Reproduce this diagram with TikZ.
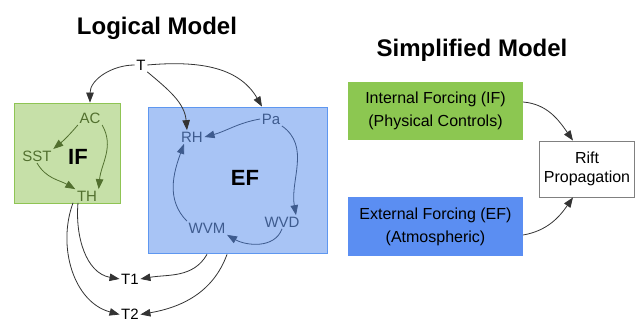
\documentclass[tikz,border=0pt]{standalone}
\usepackage{fontspec}
\setmainfont{Liberation Sans}
\usepgflibrary{arrows.meta}
\usetikzlibrary{positioning}

\definecolor{ifLight}{HTML}{C6E0A8}
\definecolor{ifEdge}{HTML}{8FC454}
\definecolor{ifDark}{HTML}{52702F}
\definecolor{efLight}{HTML}{A8C4F5}
\definecolor{efEdge}{HTML}{5E97F0}
\definecolor{efDark}{HTML}{3E5B8E}
\definecolor{intFill}{HTML}{8CC751}
\definecolor{extFill}{HTML}{5B8EF2}
\definecolor{arrowGray}{HTML}{333333}

\begin{document}
\begin{tikzpicture}[x=1pt, y=1pt,
  lbl/.style={font=\fontsize{15}{18}\selectfont, inner sep=1.5pt},
  big/.style={font=\fontsize{22}{26}\selectfont\bfseries, inner sep=0pt},
  ttl/.style={font=\fontsize{24}{28}\selectfont\bfseries, anchor=base},
  lnk/.style={draw=arrowGray, line width=0.8pt, -{Triangle[length=10pt,width=7.5pt]}},
  iflnk/.style={lnk, draw=ifDark, -{Triangle[length=10pt,width=7.5pt,fill=ifDark]}},
  eflnk/.style={lnk, draw=efDark, -{Triangle[length=10pt,width=7.5pt,fill=efDark]}},
  frame/.style={rectangle, inner sep=0pt, line width=1.8pt},
  force/.style={rectangle, inner sep=0pt, minimum width=175pt,
    align=center, font=\fontsize{16}{23}\selectfont}]
  \useasboundingbox (0, 0) rectangle (635, -323);

  % titles
  \node[ttl] (logical) at (157, -35) {Logical Model};
  \node[ttl] (simple) at (472, -57) {Simplified Model};

  % logical model boxes
  \node[frame, fill=ifLight, draw=ifEdge, minimum width=106pt,
    minimum height=100pt] (IFbox) at (67.5, -153.5) {};
  \node[frame, fill=efLight, draw=efEdge, minimum width=179pt,
    minimum height=146pt] (EFbox) at (238, -180.5) {};

  \node[lbl] (T) at (141, -65) {T};
  \node[lbl, text=ifDark] (AC) at (90, -118) {AC};
  \node[lbl, text=ifDark] (SST) at (37, -156) {SST};
  \node[big] (IF) at (78, -157) {IF};
  \node[lbl, text=ifDark] (TH) at (87, -196) {TH};
  \node[lbl, text=efDark] (RH) at (192, -137) {RH};
  \node[lbl, text=efDark] (Pa) at (271, -119) {Pa};
  \node[big] (EF) at (245, -178) {EF};
  \node[lbl, text=efDark] (WVD) at (282, -222) {WVD};
  \node[lbl, text=efDark] (WVM) at (207, -228) {WVM};
  \node[lbl] (T1) at (130, -279) {T1};
  \node[lbl] (T2) at (130, -314.5) {T2};

  % T drives both groups
  \draw[lnk] (T.west) to[out=180, in=90] (AC |- IFbox.north);
  \draw[lnk] (T.south east) to[out=-40, in=95] ([xshift=-5pt]RH.north);
  \draw[lnk] (T.east) to[out=5, in=120] ([xshift=-9pt]Pa |- EFbox.north);

  % inside IF
  \draw[iflnk] (AC.south west) to[bend left=5] (SST.north east);
  \draw[iflnk] (AC.south east) to[out=-60, in=85] (TH.north east);
  \draw[iflnk] (SST.south) to[out=-60, in=150] (TH.north west);

  % inside EF
  \draw[eflnk] (Pa.west) to[out=190, in=15] (RH.east);
  \draw[eflnk] (Pa.south east) to[out=-35, in=100] ([xshift=14pt]WVD.north);
  \draw[eflnk] (WVD.south) to[out=-110, in=-30] (WVM.south east);
  \draw[eflnk] (WVM.north west) to[out=135, in=-110] ([xshift=-8pt]RH.south);

  % outputs
  \draw[lnk] ([xshift=-9pt]TH.south) to[out=-95, in=170] (T1.west);
  \draw[lnk] ([xshift=-14pt]TH.south) to[out=-110, in=165] (T2.west);
  \draw[lnk] (WVM |- EFbox.south) to[out=-120, in=10] (T1.east);
  \draw[lnk] ([xshift=20pt]WVM |- EFbox.south) to[out=-110, in=10] (T2.east);

  % simplified model
  \node[force, fill=intFill, minimum height=58pt] (intern) at (435.5, -111)
    {Internal Forcing (IF)\\(Physical Controls)};
  \node[force, fill=extFill, minimum height=59pt] (extern) at (435.5, -226.5)
    {External Forcing (EF)\\(Atmospheric)};
  \node[rectangle, draw=gray, line width=0.9pt, fill=white, minimum width=95pt,
    minimum height=56pt, align=center, font=\fontsize{16}{19}\selectfont]
    (rift) at (587, -169) {Rift\\Propagation};

  \draw[lnk] ([yshift=9pt]intern.east) to[out=-5, in=125] ([xshift=-14pt]rift.north);
  \draw[lnk] ([yshift=-8.5pt]extern.east) to[out=10, in=-125] ([xshift=-14pt]rift.south);
\end{tikzpicture}
\end{document}
